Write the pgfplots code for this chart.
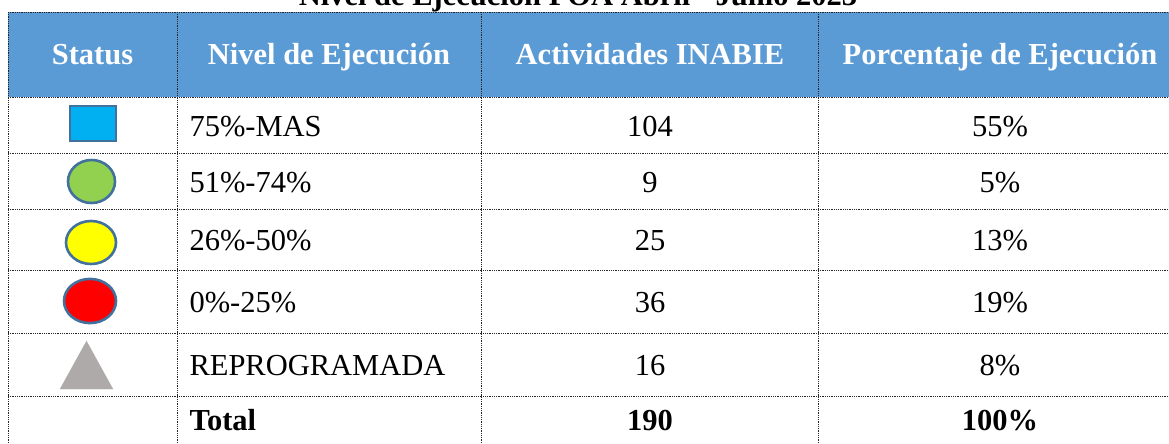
\documentclass[border=0pt]{standalone}
\usepackage{fontspec}
\setmainfont{Liberation Serif}
\usepackage{pgfplots}
\pgfplotsset{compat=1.18}
\definecolor{hdr}{HTML}{5B9BD5}
\definecolor{edge}{HTML}{41719C}
\definecolor{sq}{HTML}{00B0F0}
\definecolor{gr}{HTML}{92D050}
\definecolor{ye}{HTML}{FFFF00}
\definecolor{re}{HTML}{FF0000}
\definecolor{tri}{HTML}{AEAAAA}
\tikzset{grid/.style={line width=0.8bp, black!85, dash pattern=on 0.9bp off 0.9bp},
  tf/.style={font=\fontsize{30.5bp}{36bp}\selectfont},
  bf/.style={font=\bfseries\fontsize{30.5bp}{36bp}\selectfont}}
\begin{document}
\begin{tikzpicture}
\begin{axis}[width=1169bp,height=443bp,scale only axis,
  xmin=0,xmax=1169,ymin=0,ymax=443,y dir=reverse,
  axis lines=none,clip=false]
% header band
\fill[hdr] (axis cs:8,12) rectangle (axis cs:1169,97);
% horizontal rules
\draw[grid] (axis cs:8,12) -- (axis cs:1169,12);
\draw[grid] (axis cs:8,97) -- (axis cs:1169,97);
\draw[grid] (axis cs:8,153) -- (axis cs:1169,153);
\draw[grid] (axis cs:8,209) -- (axis cs:1169,209);
\draw[grid] (axis cs:8,270) -- (axis cs:1169,270);
\draw[grid] (axis cs:8,333) -- (axis cs:1169,333);
\draw[grid] (axis cs:8,396) -- (axis cs:1169,396);
% vertical rules
\draw[grid] (axis cs:8,12) -- (axis cs:8,443);
\draw[grid] (axis cs:177,12) -- (axis cs:177,443);
\draw[grid] (axis cs:481,12) -- (axis cs:481,443);
\draw[grid] (axis cs:818,12) -- (axis cs:818,443);
% title (top part cut by the page edge, as in the reference)
\node[bf, anchor=base] at (axis cs:578,6) {Nivel de Ejecución POA Abril - Junio 2023};
% header
\node[bf, white, anchor=base] at (axis cs:92.5,65) {Status};
\node[bf, white, anchor=base] at (axis cs:329,65) {Nivel de Ejecución};
\node[bf, white, anchor=base] at (axis cs:650,65) {Actividades INABIE};
\node[bf, white, anchor=base] at (axis cs:1000,65) {Porcentaje de Ejecución};
% status markers
\addplot[only marks, mark=square*, mark size=23bp,
  mark options={fill=sq, draw=edge, line width=2.4bp, yscale=0.76}] coordinates {(93,123.5)};
\addplot[only marks, mark=*, mark size=23.5bp,
  mark options={fill=gr, draw=edge, line width=2.6bp, yscale=0.915}] coordinates {(91.5,181.5)};
\addplot[only marks, mark=*, mark size=25bp,
  mark options={fill=ye, draw=edge, line width=2.6bp, yscale=0.86}] coordinates {(91,242.5)};
\addplot[only marks, mark=*, mark size=26bp,
  mark options={fill=re, draw=edge, line width=2.6bp, yscale=0.85}] coordinates {(90,301)};
\addplot[only marks, color=tri, mark=triangle*, mark size=30.6bp,
  mark options={fill=tri, draw=tri, line width=0.1bp, yscale=1.046}] coordinates {(86.5,373)};
% rows
\node[tf, anchor=base west] at (axis cs:186,136) {75\%-MAS};
\node[tf, anchor=base west] at (axis cs:186,192) {51\%-74\%};
\node[tf, anchor=base west] at (axis cs:186,250) {26\%-50\%};
\node[tf, anchor=base west] at (axis cs:186,312) {0\%-25\%};
\node[tf, anchor=base west] at (axis cs:186,375) {REPROGRAMADA};
\node[bf, anchor=base west] at (axis cs:186,430) {Total};
\node[tf, anchor=base] at (axis cs:650,136) {104};
\node[tf, anchor=base] at (axis cs:650,192) {9};
\node[tf, anchor=base] at (axis cs:650,250) {25};
\node[tf, anchor=base] at (axis cs:650,312) {36};
\node[tf, anchor=base] at (axis cs:650,375) {16};
\node[bf, anchor=base] at (axis cs:650,430) {190};
\node[tf, anchor=base] at (axis cs:1000,136) {55\%};
\node[tf, anchor=base] at (axis cs:1000,192) {5\%};
\node[tf, anchor=base] at (axis cs:1000,250) {13\%};
\node[tf, anchor=base] at (axis cs:1000,312) {19\%};
\node[tf, anchor=base] at (axis cs:1000,375) {8\%};
\node[bf, anchor=base] at (axis cs:1000,430) {100\%};
\coordinate (BL) at (axis cs:0,443);
\coordinate (TR) at (axis cs:1169,0);
\end{axis}
\pgfresetboundingbox
\useasboundingbox (BL) rectangle (TR);
\end{tikzpicture}
\end{document}
